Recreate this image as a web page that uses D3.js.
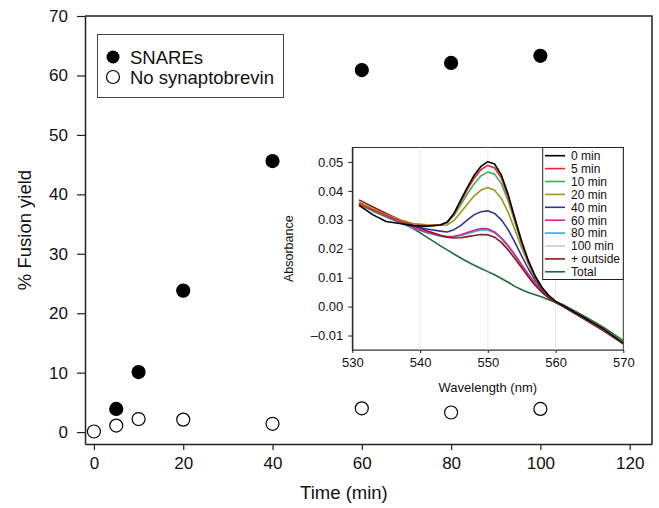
<!DOCTYPE html>
<html>
<head>
<meta charset="utf-8">
<script src="https://cdn.jsdelivr.net/npm/d3@7"></script>
<style>
  body { margin: 0; background: #fff; }
  svg { font-family: "Liberation Sans", Arial, Helvetica, sans-serif; }
</style>
</head>
<body>
<svg width="659" height="508"></svg>
<script>
// main chart data
var times = [0, 5, 10, 20, 40, 60, 80, 100]
var snares = [null, 3.9, 10.1, 23.8, 45.6, 60.9, 62.1, 63.3]
var noSyb = [0.1, 1.1, 2.2, 2.1, 1.4, 4.0, 3.3, 3.9]
var xTicks = [0, 20, 40, 60, 80, 100, 120]
var yTicks = [0, 10, 20, 30, 40, 50, 60, 70]

// inset spectra
var wavelengths = [531,533,535,537,539,541,543,544,545,546,547,548,549,550,551,552,553,554,555,556,557,558,559,560,561,564,567,570]
var min0 = [0.0350,0.0318,0.0294,0.0287,0.0280,0.0278,0.0282,0.0292,0.0322,0.0368,0.0413,0.0454,0.0485,0.0501,0.0493,0.0455,0.0388,0.0305,0.0225,0.0158,0.0105,0.0066,0.0038,0.0018,0.0005,-0.0035,-0.0076,-0.0127]
var min5 = [0.0355,0.0335,0.0315,0.0297,0.0282,0.0279,0.0283,0.0292,0.0320,0.0362,0.0405,0.0444,0.0474,0.0488,0.0480,0.0444,0.0380,0.0300,0.0222,0.0156,0.0104,0.0065,0.0037,0.0018,0.0005,-0.0036,-0.0078,-0.0128]
var min10 = [0.0352,0.0333,0.0314,0.0296,0.0281,0.0278,0.0281,0.0290,0.0315,0.0352,0.0390,0.0425,0.0452,0.0465,0.0458,0.0425,0.0366,0.0292,0.0218,0.0154,0.0103,0.0065,0.0037,0.0018,0.0006,-0.0034,-0.0075,-0.0124]
var min20 = [0.0362,0.0338,0.0318,0.0300,0.0287,0.0283,0.0281,0.0282,0.0298,0.0325,0.0355,0.0383,0.0403,0.0412,0.0402,0.0374,0.0326,0.0266,0.0203,0.0147,0.0100,0.0064,0.0037,0.0018,0.0006,-0.0035,-0.0077,-0.0130]
var min40 = [0.0356,0.0333,0.0313,0.0295,0.0279,0.0268,0.0261,0.0258,0.0266,0.0280,0.0300,0.0318,0.0328,0.0331,0.0322,0.0300,0.0266,0.0222,0.0175,0.0130,0.0091,0.0059,0.0034,0.0016,0.0004,-0.0038,-0.0080,-0.0127]
var min60 = [0.0358,0.0333,0.0312,0.0292,0.0273,0.0257,0.0245,0.0242,0.0243,0.0248,0.0256,0.0264,0.0270,0.0269,0.0258,0.0238,0.0211,0.0179,0.0145,0.0111,0.0080,0.0054,0.0032,0.0015,0.0003,-0.0040,-0.0082,-0.0128]
var min80 = [0.0352,0.0330,0.0310,0.0290,0.0271,0.0255,0.0243,0.0240,0.0241,0.0246,0.0253,0.0260,0.0266,0.0266,0.0256,0.0236,0.0209,0.0177,0.0143,0.0110,0.0079,0.0053,0.0031,0.0015,0.0003,-0.0039,-0.0080,-0.0126]
var min100 = [0.0360,0.0336,0.0314,0.0293,0.0274,0.0257,0.0245,0.0241,0.0242,0.0246,0.0252,0.0259,0.0264,0.0263,0.0254,0.0234,0.0207,0.0175,0.0142,0.0109,0.0078,0.0052,0.0031,0.0015,0.0003,-0.0039,-0.0081,-0.0127]
var outside = [0.0369,0.0345,0.0322,0.0300,0.0280,0.0262,0.0247,0.0240,0.0237,0.0238,0.0242,0.0246,0.0249,0.0248,0.0240,0.0222,0.0196,0.0166,0.0134,0.0102,0.0073,0.0049,0.0029,0.0014,0.0002,-0.0040,-0.0082,-0.0129]
var total = [0.0354,0.0332,0.0311,0.0292,0.0270,0.0240,0.0210,0.0196,0.0182,0.0168,0.0155,0.0143,0.0132,0.0121,0.0110,0.0097,0.0084,0.0070,0.0058,0.0049,0.0041,0.0033,0.0024,0.0015,0.0008,-0.0030,-0.0070,-0.0118]
var insetNames = ["0 min", "5 min", "10 min", "20 min", "40 min", "60 min", "80 min", "100 min", "+ outside", "Total"]
var insetColors = ["#000000", "#e8282e", "#3bb04f", "#9e951f", "#303592", "#e0238d", "#27afe5", "#cccccc", "#861a1e", "#1b6e3b"]
var insetXTicks = [530, 540, 550, 560, 570]
var insetYTicks = [-0.01, 0, 0.01, 0.02, 0.03, 0.04, 0.05]

var svg = d3.select("svg")

// ---- main plot ----
var x = d3.scaleLinear().domain([-2, 125]).range([85, 652])
var y = d3.scaleLinear().domain([-2, 70]).range([444, 16])

var main = svg.append("g")

// frame top and right
main.append("path")
  .attr("d", `M${x(-2)},${y(70)}H${x(125)}V${y(-2)}`)
  .attr("fill", "none").attr("stroke", "#222").attr("stroke-width", 1.5)

var xAxis = main.append("g")
  .attr("transform", `translate(0,${y(-2)})`)
  .call(d3.axisBottom(x).tickValues(xTicks).tickSize(6).tickPadding(7).tickSizeOuter(0))
var yAxis = main.append("g")
  .attr("transform", `translate(${x(-2)},0)`)
  .call(d3.axisLeft(y).tickValues(yTicks).tickSize(8).tickPadding(9).tickSizeOuter(0))

;[xAxis, yAxis].forEach(function(a){
  a.select(".domain").attr("stroke", "#222").attr("stroke-width", 1.5)
  a.selectAll(".tick line").attr("stroke", "#222").attr("stroke-width", 1.2)
  a.selectAll("text").attr("font-size", 17).attr("fill", "#111").attr("font-family", null)
})
xAxis.attr("font-family", null)
yAxis.attr("font-family", null)

main.append("text")
  .attr("x", x(56)).attr("y", 499)
  .attr("text-anchor", "middle").attr("font-size", 18.5).attr("fill", "#111")
  .text("Time (min)")
main.append("text")
  .attr("transform", `translate(31,${y(34)}) rotate(-90)`)
  .attr("text-anchor", "middle").attr("font-size", 18.5).attr("fill", "#111")
  .text("% Fusion yield")

var snarePts = times.map((t, i) => ({t: t, v: snares[i]})).filter(d => d.v != null)
var sybPts = times.map((t, i) => ({t: t, v: noSyb[i]}))

main.selectAll(".open").data(sybPts).enter().append("circle")
  .attr("cx", d => x(d.t)).attr("cy", d => y(d.v)).attr("r", 6.5)
  .attr("fill", "#fff").attr("stroke", "#000").attr("stroke-width", 1.2)
main.selectAll(".filled").data(snarePts).enter().append("circle")
  .attr("cx", d => x(d.t)).attr("cy", d => y(d.v)).attr("r", 6.5)
  .attr("fill", "#000").attr("stroke", "#000").attr("stroke-width", 1.2)

// main legend
var leg = main.append("g")
leg.append("rect").attr("x", 97.5).attr("y", 34.5).attr("width", 186).attr("height", 63)
  .attr("fill", "#fff").attr("stroke", "#444").attr("stroke-width", 1)
leg.append("circle").attr("cx", 113).attr("cy", 57).attr("r", 6.5).attr("fill", "#000")
leg.append("circle").attr("cx", 113).attr("cy", 77).attr("r", 6.5)
  .attr("fill", "#fff").attr("stroke", "#000").attr("stroke-width", 1.2)
leg.append("text").attr("x", 130).attr("y", 63.5).attr("font-size", 18.5).attr("fill", "#111").text("SNAREs")
leg.append("text").attr("x", 130).attr("y", 83.5).attr("font-size", 18.5).attr("fill", "#111").text("No synaptobrevin")

// ---- inset ----
var ix = d3.scaleLinear().domain([530, 570]).range([352.3, 623.3])
var iy = d3.scaleLinear().domain([-0.015, 0.055]).range([350, 147.5])

var inset = svg.append("g")
inset.append("rect")
  .attr("x", ix(530)).attr("y", iy(0.055))
  .attr("width", ix(570) - ix(530)).attr("height", iy(-0.015) - iy(0.055))
  .attr("fill", "#fff").attr("stroke", "#333").attr("stroke-width", 1)

// faint vertical grid
inset.selectAll(".grid").data([540, 550, 560]).enter().append("line")
  .attr("x1", d => ix(d)).attr("x2", d => ix(d))
  .attr("y1", iy(0.055)).attr("y2", iy(-0.015))
  .attr("stroke", "#ececec").attr("stroke-width", 1)

var ixAxis = inset.append("g")
  .attr("transform", `translate(0,${iy(-0.015)})`)
  .call(d3.axisBottom(ix).tickValues(insetXTicks).tickSize(3).tickPadding(5).tickSizeOuter(0))
var iyAxis = inset.append("g")
  .attr("transform", `translate(${ix(530)},0)`)
  .call(d3.axisLeft(iy).tickValues(insetYTicks).tickSize(4).tickPadding(5).tickSizeOuter(0)
    .tickFormat(d => d < 0 ? "\u2013" + Math.abs(d).toFixed(2) : d.toFixed(2)))
;[ixAxis, iyAxis].forEach(function(a){
  a.attr("font-family", null)
  a.select(".domain").attr("stroke", "#222").attr("stroke-width", 1.2)
  a.selectAll(".tick line").attr("stroke", "#222")
  a.selectAll("text").attr("font-size", 13).attr("fill", "#111")
})
ixAxis.select(".domain").attr("stroke", "#666")

inset.append("text")
  .attr("x", ix(550)).attr("y", 392)
  .attr("text-anchor", "middle").attr("font-size", 13).attr("fill", "#111")
  .text("Wavelength (nm)")
inset.append("text")
  .attr("transform", `translate(293,${iy(0.02)}) rotate(-90)`)
  .attr("text-anchor", "middle").attr("font-size", 12.5).attr("fill", "#111")
  .text("Absorbance")

var seriesVals = [min0, min5, min10, min20, min40, min60, min80, min100, outside, total]
var line = d3.line().x((d, i) => ix(wavelengths[i])).y(d => iy(d))

// draw back to front so the early times sit on top
var order = [9, 7, 6, 5, 8, 4, 3, 2, 1, 0]
inset.selectAll(".spec").data(order).enter().append("path")
  .attr("d", k => line(seriesVals[k]))
  .attr("fill", "none")
  .attr("stroke", k => insetColors[k])
  .attr("stroke-width", 1.6)
  .attr("stroke-linejoin", "round")

// inset legend
var ileg = inset.append("g")
ileg.append("rect").attr("x", 542.7).attr("y", iy(0.055)).attr("width", ix(570) - 542.7).attr("height", 132)
  .attr("fill", "#fff").attr("stroke", "#222").attr("stroke-width", 1)
insetNames.forEach(function(n, i){
  var yy = 155.7 + i * 12.9
  ileg.append("line").attr("x1", 545).attr("x2", 565).attr("y1", yy).attr("y2", yy)
    .attr("stroke", insetColors[i]).attr("stroke-width", 1.6)
  ileg.append("text").attr("x", 571).attr("y", yy + 4.3)
    .attr("font-size", 12).attr("fill", "#111").text(n)
})
</script>
</body>
</html>
